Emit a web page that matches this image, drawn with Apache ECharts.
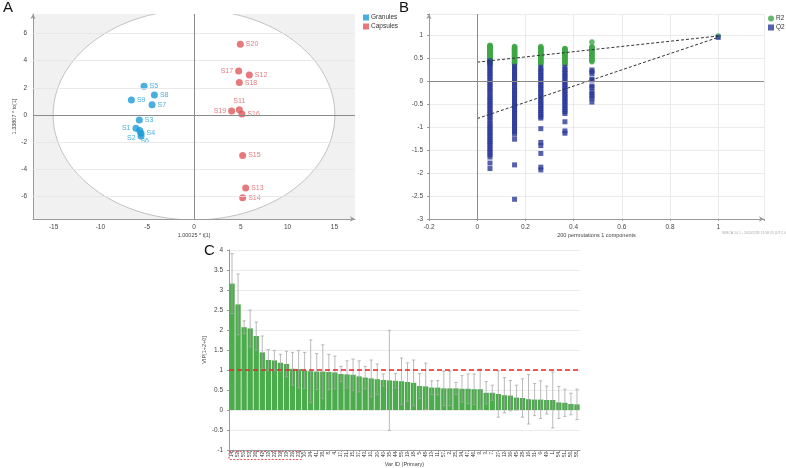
<!DOCTYPE html>
<html>
<head>
<meta charset="utf-8">
<script src="https://cdn.jsdelivr.net/npm/echarts@6/dist/echarts.min.js"></script>
<style>
  html, body { margin: 0; padding: 0; background: #fff; }
  #chart { width: 786px; height: 468px; }
</style>
</head>
<body>
<div id="chart"></div>
<script>
// ---- panel A: OPLS-DA scores ----
const granuleNames = ['S1', 'S2', 'S3', 'S4', 'S5', 'S6', 'S7', 'S8', 'S9'];
const granuleT = [-6.2, -5.66, -5.84, -5.66, -5.34, -5.8, -4.48, -4.23, -6.69];
const granuleTo = [-0.98, -1.55, -0.37, -1.35, 2.11, -1.15, 0.74, 1.47, 1.10];
const capsuleNames = ['S11', 'S12', 'S13', 'S14', 'S15', 'S16', 'S17', 'S18', 'S19', 'S20'];
const capsuleT = [4.84, 5.91, 5.52, 5.2, 5.2, 5.12, 4.77, 4.84, 4.02, 4.95];
const capsuleTo = [0.37, 2.94, -5.40, -6.11, -2.99, 0.07, 3.24, 2.38, 0.29, 5.20];
const ellipseRadius = [15.05, 7.75];
const scoreTicksY = [-6, -4, -2, 2, 4, 6];

// ---- panel B: permutation test ----
const permCorr = [0.053, 0.155, 0.264, 0.364, 0.476];
const r2Perm = [
    [0.79, 0.78, 0.76, 0.75, 0.73, 0.72, 0.70, 0.69, 0.67, 0.65, 0.64, 0.62, 0.61, 0.59, 0.57, 0.56, 0.54, 0.52, 0.50, 0.49, 0.47, 0.45, 0.43, 0.41, 0.39],
    [0.76, 0.75, 0.73, 0.71, 0.70, 0.68, 0.66, 0.65, 0.63, 0.61, 0.60, 0.58, 0.56, 0.55, 0.53, 0.51, 0.49, 0.47, 0.45, 0.43, 0.41, 0.39, 0.37],
    [0.76, 0.74, 0.73, 0.71, 0.69, 0.68, 0.66, 0.64, 0.63, 0.61, 0.59, 0.57, 0.56, 0.54, 0.52, 0.50, 0.48, 0.46, 0.44, 0.42, 0.40, 0.37],
    [0.72, 0.71, 0.69, 0.67, 0.66, 0.64, 0.62, 0.61, 0.59, 0.57, 0.55, 0.53, 0.51, 0.49, 0.47, 0.45, 0.43, 0.41, 0.39, 0.37],
    [0.86, 0.76, 0.74, 0.72, 0.70, 0.68, 0.66, 0.64, 0.62, 0.60, 0.57, 0.55, 0.52, 0.50, 0.47, 0.45, 0.43]
];
const q2Perm = [
    [0.45, 0.41, 0.37, 0.33, 0.29, 0.24, 0.20, 0.16, 0.11, 0.07, 0.02, -0.03, -0.07, -0.12, -0.16, -0.21, -0.25, -0.31, -0.35, -0.40, -0.44, -0.49, -0.53, -0.58, -0.62, -0.67, -0.71, -0.76, -0.80, -0.85, -0.91, -0.95, -1.00, -1.04, -1.09, -1.13, -1.18, -1.22, -1.27, -1.31, -1.36, -1.40, -1.46, -1.50, -1.55, -1.60, -1.65, -1.78, -1.90],
    [0.33, 0.29, 0.25, 0.20, 0.16, 0.12, 0.07, 0.03, -0.02, -0.06, -0.11, -0.16, -0.20, -0.25, -0.29, -0.34, -0.38, -0.43, -0.47, -0.52, -0.56, -0.61, -0.65, -0.70, -0.74, -0.79, -0.83, -0.88, -0.92, -0.97, -1.01, -1.06, -1.10, -1.15, -1.26, -1.82, -2.57],
    [0.31, 0.27, 0.22, 0.18, 0.13, 0.09, 0.04, 0.00, -0.05, -0.09, -0.14, -0.18, -0.23, -0.27, -0.32, -0.36, -0.41, -0.45, -0.50, -0.54, -0.59, -0.63, -0.68, -0.72, -0.77, -0.80, -1.03, -1.33, -1.40, -1.57, -1.87, -1.93],
    [0.31, 0.26, 0.21, 0.17, 0.12, 0.08, 0.03, -0.02, -0.06, -0.11, -0.15, -0.20, -0.25, -0.29, -0.34, -0.38, -0.43, -0.47, -0.52, -0.57, -0.61, -0.66, -0.70, -0.88, -1.08, -1.13],
    [0.25, 0.21, 0.17, 0.05, 0.03, -0.10, -0.13, -0.22, -0.27, -0.32, -0.37, -0.45]
];
const origCorr = 1.0;
const r2Orig = 0.99;
const q2Orig = 0.96;
const r2Line = [[0, 0.42], [1, 0.99]];
const q2Line = [[0, -0.81], [1, 0.96]];

// ---- panel C: VIP ----
const varIds = [14, 52, 50, 53, 26, 42, 32, 22, 39, 33, 29, 23, 30, 24, 41, 38, 8, 4, 17, 21,
    15, 37, 43, 10, 20, 40, 35, 44, 55, 19, 18, 5, 48, 13, 11, 57, 2, 25, 34, 47,
    46, 9, 3, 7, 27, 12, 36, 45, 28, 16, 31, 6, 49, 1, 54, 51, 56, 58];
const vipValues = [3.16, 2.64, 2.07, 2.04, 1.85, 1.44, 1.25, 1.24, 1.18, 1.15, 1.03, 1.02, 0.99, 0.97, 0.96, 0.96, 0.95, 0.94, 0.90, 0.89,
    0.88, 0.84, 0.81, 0.79, 0.77, 0.75, 0.74, 0.73, 0.72, 0.70, 0.68, 0.60, 0.59, 0.56, 0.56, 0.54, 0.54, 0.54, 0.53, 0.53,
    0.52, 0.52, 0.43, 0.43, 0.40, 0.37, 0.36, 0.31, 0.30, 0.27, 0.26, 0.26, 0.25, 0.25, 0.19, 0.18, 0.15, 0.14];
const vipCi = [0.75, 0.76, 0.16, 0.46, 0.35, 0.41, 0.26, 0.25, 0.21, 0.32, 0.41, 0.47, 0.45, 0.78, 0.45, 0.67, 0.44, 0.41, 0.19, 0.34,
    0.39, 0.39, 0.28, 0.46, 0.38, 0.15, 1.25, 0.18, 0.58, 0.48, 0.57, 0.31, 0.58, 0.17, 0.18, 0.43, 0.43, 0.15, 0.33, 0.37,
    0.38, 0.50, 0.28, 0.19, 0.58, 0.44, 0.38, 0.31, 0.48, 0.62, 0.40, 0.47, 0.35, 0.70, 0.40, 0.34, 0.27, 0.38];
const vipCut = 1;
const boxedCount = 12;

const labelPos = {
    S1: ['left', [0, 0]], S2: ['left', [0, 2]], S6: ['bottom', [5, 2]],
    S11: ['top', [0, 0]], S17: ['left', [0, 0]], S19: ['left', [0, 0]]
};

const FONT = 'Liberation Sans, Arial, sans-serif';
const blue = '#1b9bd7';
const red = '#e0575a';
const green = '#3da646';
const navy = '#2c3a9a';

function pointData(names, xs, ys) {
    let out = [];
    for (let i = 0; i < names.length; i++) {
        let pos = labelPos[names[i]] || ['right', [0, 0]];
        out.push({
            name: names[i],
            value: [xs[i], ys[i]],
            label: { position: pos[0], offset: pos[1] }
        });
    }
    return out;
}

function permData(values) {
    let out = [];
    for (let c = 0; c < permCorr.length; c++) {
        for (let k = 0; k < values[c].length; k++) {
            out.push([permCorr[c], values[c][k]]);
        }
    }
    return out;
}

// only label the ticks that fall on a multiple of step
function everyTick(step) {
    return function (v) {
        let r = v / step;
        return Math.abs(r - Math.round(r)) < 1e-6 ? String(+v.toFixed(2)) : '';
    };
}

function axisBase(extra) {
    let base = {
        axisLine: { show: true, onZero: false, lineStyle: { color: '#9a9a9a', width: 1 } },
        axisTick: { show: true, length: 2, lineStyle: { color: '#9a9a9a' } },
        axisLabel: { fontSize: 6.5, color: '#444', fontFamily: FONT, margin: 5 },
        splitLine: { show: true, lineStyle: { color: '#e6e6e6', width: 0.8 } },
        nameTextStyle: { fontSize: 5.5, color: '#444', fontFamily: FONT }
    };
    return Object.assign(base, extra);
}

let dom = document.getElementById('chart');
let myChart = echarts.init(dom, null, { renderer: 'canvas' });

let labelStyle = { show: true, fontSize: 7, fontFamily: FONT, distance: 2, formatter: '{b}' };
let arrowLine = { show: true, onZero: false, symbol: ['none', 'arrow'], symbolSize: [4, 5], lineStyle: { color: '#9a9a9a' } };

let option = {
    animation: false,
    backgroundColor: '#fff',
    textStyle: { fontFamily: FONT },
    grid: [
        { left: 33, right: 431, top: 14, bottom: 249, show: true, backgroundColor: '#f1f1f1', borderWidth: 0 },
        { left: 429, right: 22, top: 14, bottom: 249 },
        { left: 229, right: 206, top: 250, bottom: 15 }
    ],
    legend: [
        {
            data: ['Granules', 'Capsules'], left: 358, top: 9, orient: 'vertical',
            itemWidth: 6, itemHeight: 6, itemGap: 2, icon: 'rect',
            textStyle: { fontSize: 6.5, color: '#333', padding: [0, 0, 0, -3] }
        },
        {
            data: [{ name: 'R2', icon: 'circle' }, { name: 'Q2', icon: 'rect' }], left: 763, top: 10, orient: 'vertical',
            itemWidth: 6, itemHeight: 6, itemGap: 2,
            textStyle: { fontSize: 6.5, color: '#333', padding: [0, 0, 0, -3] }
        }
    ],
    xAxis: [
        axisBase({
            gridIndex: 0, type: 'value', min: -17.2, max: 17.2, interval: 0.2,
            name: '1.00025 * t[1]', nameLocation: 'middle', nameGap: 13,
            axisLine: arrowLine,
            axisTick: { show: false },
            axisLabel: { fontSize: 6.5, color: '#444', margin: 5, formatter: everyTick(5) },
            splitLine: { show: false }
        }),
        axisBase({
            gridIndex: 1, type: 'value', min: -0.2, max: 1.19, interval: 0.2,
            name: '200 permutations 1 components', nameLocation: 'middle', nameGap: 13,
            axisLine: arrowLine,
            axisLabel: { fontSize: 6.5, color: '#444', margin: 5, formatter: everyTick(0.2) }
        }),
        axisBase({
            gridIndex: 2, type: 'category', data: varIds.map(String),
            name: 'Var ID (Primary)', nameLocation: 'middle', nameGap: 11,
            axisTick: { show: true, length: 2, alignWithLabel: true, lineStyle: { color: '#9a9a9a' } },
            axisLabel: { fontSize: 4.5, color: '#333', rotate: 90, interval: 0, margin: 2 },
            splitLine: { show: false }
        })
    ],
    yAxis: [
        axisBase({
            gridIndex: 0, type: 'value', min: -7.68, max: 7.44, interval: 0.08,
            name: '1.33807 * to[1]', nameLocation: 'middle', nameGap: 16,
            axisLine: arrowLine,
            axisTick: { show: false },
            axisLabel: { fontSize: 6.5, color: '#444', margin: 6, formatter: everyTick(2) },
            splitLine: { show: false }
        }),
        axisBase({
            gridIndex: 1, type: 'value', min: -3, max: 1.47, interval: 0.5,
            axisLine: arrowLine,
            axisLabel: { fontSize: 6.5, color: '#444', margin: 6, formatter: everyTick(0.5) }
        }),
        axisBase({
            gridIndex: 2, type: 'value', min: -1, max: 4, interval: 0.5,
            name: 'VIP[1+2+0]', nameLocation: 'middle', nameGap: 14,
            axisLabel: { fontSize: 6.5, color: '#444', margin: 6 }
        })
    ],
    series: [
        {
            name: 'ellipse', type: 'custom', xAxisIndex: 0, yAxisIndex: 0, clip: true, silent: true, z: 1,
            data: [[0, 0]],
            renderItem: function (params, api) {
                let pts = [];
                for (let k = 0; k <= 160; k++) {
                    let t = k / 160 * Math.PI * 2;
                    pts.push(api.coord([ellipseRadius[0] * Math.cos(t), ellipseRadius[1] * Math.sin(t)]));
                }
                return { type: 'polygon', shape: { points: pts }, style: { fill: '#fff', stroke: '#c2c2c2', lineWidth: 1 } };
            },
            markLine: {
                silent: true, symbol: 'none', label: { show: false },
                lineStyle: { color: '#e4e4e4', type: 'solid', width: 0.8 },
                data: scoreTicksY.map(function (v) { return { yAxis: v }; })
            }
        },
        {
            name: 'Granules', type: 'scatter', xAxisIndex: 0, yAxisIndex: 0, z: 3,
            symbolSize: 7, itemStyle: { color: blue },
            label: Object.assign({ color: blue }, labelStyle),
            data: pointData(granuleNames, granuleT, granuleTo),
            markLine: {
                silent: true, symbol: 'none', label: { show: false },
                lineStyle: { color: '#8a8a8a', type: 'solid', width: 1 },
                data: [{ xAxis: 0 }, { yAxis: 0 }]
            }
        },
        {
            name: 'Capsules', type: 'scatter', xAxisIndex: 0, yAxisIndex: 0, z: 3,
            symbolSize: 7, itemStyle: { color: red },
            label: Object.assign({ color: red }, labelStyle),
            data: pointData(capsuleNames, capsuleT, capsuleTo)
        },
        {
            name: 'R2', type: 'scatter', xAxisIndex: 1, yAxisIndex: 1, z: 3,
            symbol: 'circle', symbolSize: 5.5, itemStyle: { color: green },
            data: permData(r2Perm).concat([[origCorr, r2Orig]]),
            markLine: {
                silent: true, symbol: 'none', label: { show: false },
                lineStyle: { color: '#8a8a8a', type: 'solid', width: 1 },
                data: [{ xAxis: 0 }, { yAxis: 0 }]
            }
        },
        {
            name: 'Q2', type: 'scatter', xAxisIndex: 1, yAxisIndex: 1, z: 3,
            symbol: 'rect', symbolSize: 5, itemStyle: { color: navy },
            data: permData(q2Perm).concat([[origCorr, q2Orig]])
        },
        {
            name: 'R2 fit', type: 'line', xAxisIndex: 1, yAxisIndex: 1, z: 4, symbol: 'none', silent: true,
            lineStyle: { color: '#333', type: [3, 2], width: 1 },
            data: r2Line
        },
        {
            name: 'Q2 fit', type: 'line', xAxisIndex: 1, yAxisIndex: 1, z: 4, symbol: 'none', silent: true,
            lineStyle: { color: '#333', type: [3, 2], width: 1 },
            data: q2Line
        },
        {
            name: 'VIP', type: 'bar', xAxisIndex: 2, yAxisIndex: 2, z: 2,
            barCategoryGap: '12%',
            itemStyle: { color: '#4cab4c' },
            data: vipValues,
            markLine: {
                silent: true, symbol: 'none', label: { show: false },
                lineStyle: { color: '#e8262b', type: [5, 3], width: 1.5 },
                data: [{ yAxis: vipCut }]
            }
        },
        {
            name: 'VIP ci', type: 'custom', xAxisIndex: 2, yAxisIndex: 2, z: 3, silent: true,
            data: vipValues.map(function (v, i) { return [i, v, vipCi[i]]; }),
            renderItem: function (params, api) {
                let x = api.value(0);
                let v = api.value(1);
                let c = api.value(2);
                let top = api.coord([x, v + c]);
                let bot = api.coord([x, v - c]);
                let w = 1.6;
                let st = { stroke: '#a8a8a8', lineWidth: 0.8 };
                return {
                    type: 'group',
                    children: [
                        { type: 'line', shape: { x1: top[0], y1: top[1], x2: bot[0], y2: bot[1] }, style: st },
                        { type: 'line', shape: { x1: top[0] - w, y1: top[1], x2: top[0] + w, y2: top[1] }, style: st },
                        { type: 'line', shape: { x1: bot[0] - w, y1: bot[1], x2: bot[0] + w, y2: bot[1] }, style: st }
                    ]
                };
            }
        }
    ],
    graphic: [
        { type: 'text', left: 3, top: 0, style: { text: 'A', fontSize: 15, fill: '#111', fontFamily: FONT } },
        { type: 'text', left: 399, top: 0, style: { text: 'B', fontSize: 15, fill: '#111', fontFamily: FONT } },
        { type: 'text', left: 204, top: 243, style: { text: 'C', fontSize: 15, fill: '#111', fontFamily: FONT } },
        { type: 'text', left: 722, top: 231, style: { text: 'SIMCA 14.1 - 2020/2/28 11:58:55 (UTC+8)', fontSize: 3.5, fill: '#aaa', fontFamily: FONT } }
    ]
};

myChart.setOption(option);

// red dashed frame around the labels of the VIP > 1 variables
let x0 = myChart.convertToPixel({ xAxisIndex: 2 }, 0);
let x1 = myChart.convertToPixel({ xAxisIndex: 2 }, boxedCount - 1);
let half = (x1 - x0) / (boxedCount - 1) / 2;
let axisY = myChart.convertToPixel({ yAxisIndex: 2 }, -1);
myChart.setOption({
    graphic: option.graphic.concat([{
        type: 'rect', silent: true,
        shape: { x: x0 - half, y: axisY + 1.5, width: x1 - x0 + 2 * half, height: 8 },
        style: { fill: 'none', stroke: '#e8262b', lineWidth: 0.8, lineDash: [2, 1.5] }
    }])
});

window.addEventListener('resize', myChart.resize);
</script>
</body>
</html>
